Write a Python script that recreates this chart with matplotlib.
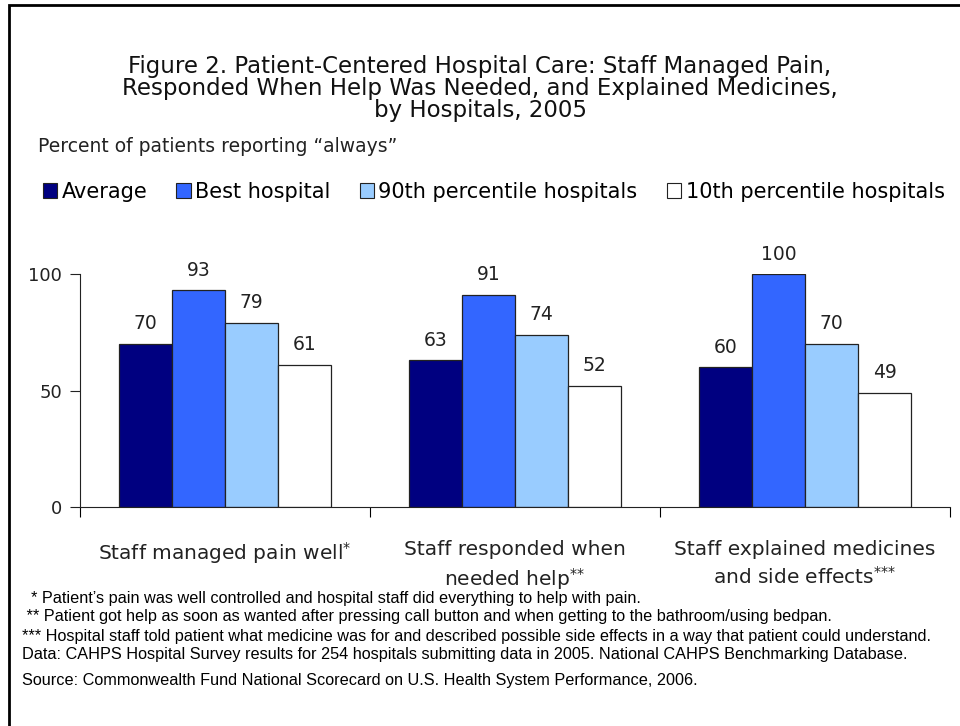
"""
Figure 2 - patient-centered hospital care, grouped bars.
"""

import numpy as np
import matplotlib
matplotlib.use("Agg")
import matplotlib.pyplot as plt
from matplotlib.patches import Patch, Rectangle

W, H = 960, 726

title_lines = ["Figure 2. Patient-Centered Hospital Care: Staff Managed Pain,",
               "Responded When Help Was Needed, and Explained Medicines,",
               "by Hospitals, 2005"]
categories = ["Staff managed pain well$^{{*}}$",
              "Staff responded when\nneeded help$^{{*}{*}}$",
              "Staff explained medicines\nand side effects$^{{*}{*}{*}}$"]
series = ["Average", "Best hospital", "90th percentile hospitals",
          "10th percentile hospitals"]
average = [70, 63, 60]
best = [93, 91, 100]
p90 = [79, 74, 70]
p10 = [61, 52, 49]
colors = ["#000080", "#3366FF", "#99CCFF", "#FFFFFF"]

footnotes = [
    "  * Patient\u2019s pain was well controlled and hospital staff did everything to help with pain.",
    " ** Patient got help as soon as wanted after pressing call button and when getting to the bathroom/using bedpan.",
    "*** Hospital staff told patient what medicine was for and described possible side effects in a way that patient could understand.",
    "Data: CAHPS Hospital Survey results for 254 hospitals submitting data in 2005. National CAHPS Benchmarking Database.",
]
source = "Source: Commonwealth Fund National Scorecard on U.S. Health System Performance, 2006."

plt.rcParams['font.family'] = ['DejaVu Sans']
arial = ['Liberation Sans', 'DejaVu Sans']


def fx(px):
    return px / W


def fy(py):
    return 1 - py / H


fig = plt.figure(figsize=(W / 100, H / 100), dpi=100)

# frame round the figure
fig.patches.append(Rectangle((fx(9), fy(H + 5)), 1.2, fy(5) - fy(H + 5),
                             transform=fig.transFigure, fill=False,
                             edgecolor="black", linewidth=2))

ax = fig.add_axes([fx(80), fy(507), fx(950) - fx(80), fy(274) - fy(507)])

data = [average, best, p90, p10]
bw = 0.183
x = np.arange(len(categories)) + 0.5
for i, vals in enumerate(data):
    pos = x + (i - 1.5) * bw
    ax.bar(pos, vals, width=bw, color=colors[i], edgecolor="#222222",
           linewidth=0.9, zorder=2)
    for p, v in zip(pos, vals):
        ax.text(p, v + 4.5, str(v), ha="center", va="bottom", fontsize=13.5,
                color="#222222")

ax.set_xlim(0, 3)
ax.set_ylim(0, 100)
ax.set_yticks([0, 50, 100])
ax.tick_params(axis="y", direction="out", length=7, labelsize=13,
               pad=6, colors="#222222")
ax.set_xticks([0, 1, 2, 3])
ax.set_xticklabels([])
ax.tick_params(axis="x", which="major", direction="out", length=7)
ax.set_xticks(x, minor=True)
ax.set_xticklabels(categories, minor=True, fontsize=14.5, linespacing=1.35,
                   color="#222222")
ax.tick_params(axis="x", which="minor", length=0, pad=24)
for s in ["top", "right"]:
    ax.spines[s].set_visible(False)
for s in ["left", "bottom"]:
    ax.spines[s].set_color("#222222")

for k, line in enumerate(title_lines):
    fig.text(0.5, fy(66 + 22.5 * k), line, ha="center", va="center",
             fontsize=16.5, color="#111111")
fig.text(fx(38), fy(147), "Percent of patients reporting \u201calways\u201d",
         ha="left", va="center", fontsize=13.5, color="#222222")

handles = [Patch(facecolor=c, edgecolor="#222222", linewidth=0.8) for c in colors]
fig.legend(handles, series, loc="center left", bbox_to_anchor=(fx(24), fy(192)),
           ncol=4, frameon=False, fontsize=15, handlelength=0.7,
           handleheight=0.7, handletextpad=0.2, columnspacing=1.4)

for k, line in enumerate(footnotes):
    fig.text(fx(22), fy(598 + 19 * k), line, ha="left", va="center",
             fontsize=11.7, family=arial)
fig.text(fx(22), fy(680), source, ha="left", va="center", fontsize=11.7,
         family=arial)

fig.savefig("out.png", dpi=100)
